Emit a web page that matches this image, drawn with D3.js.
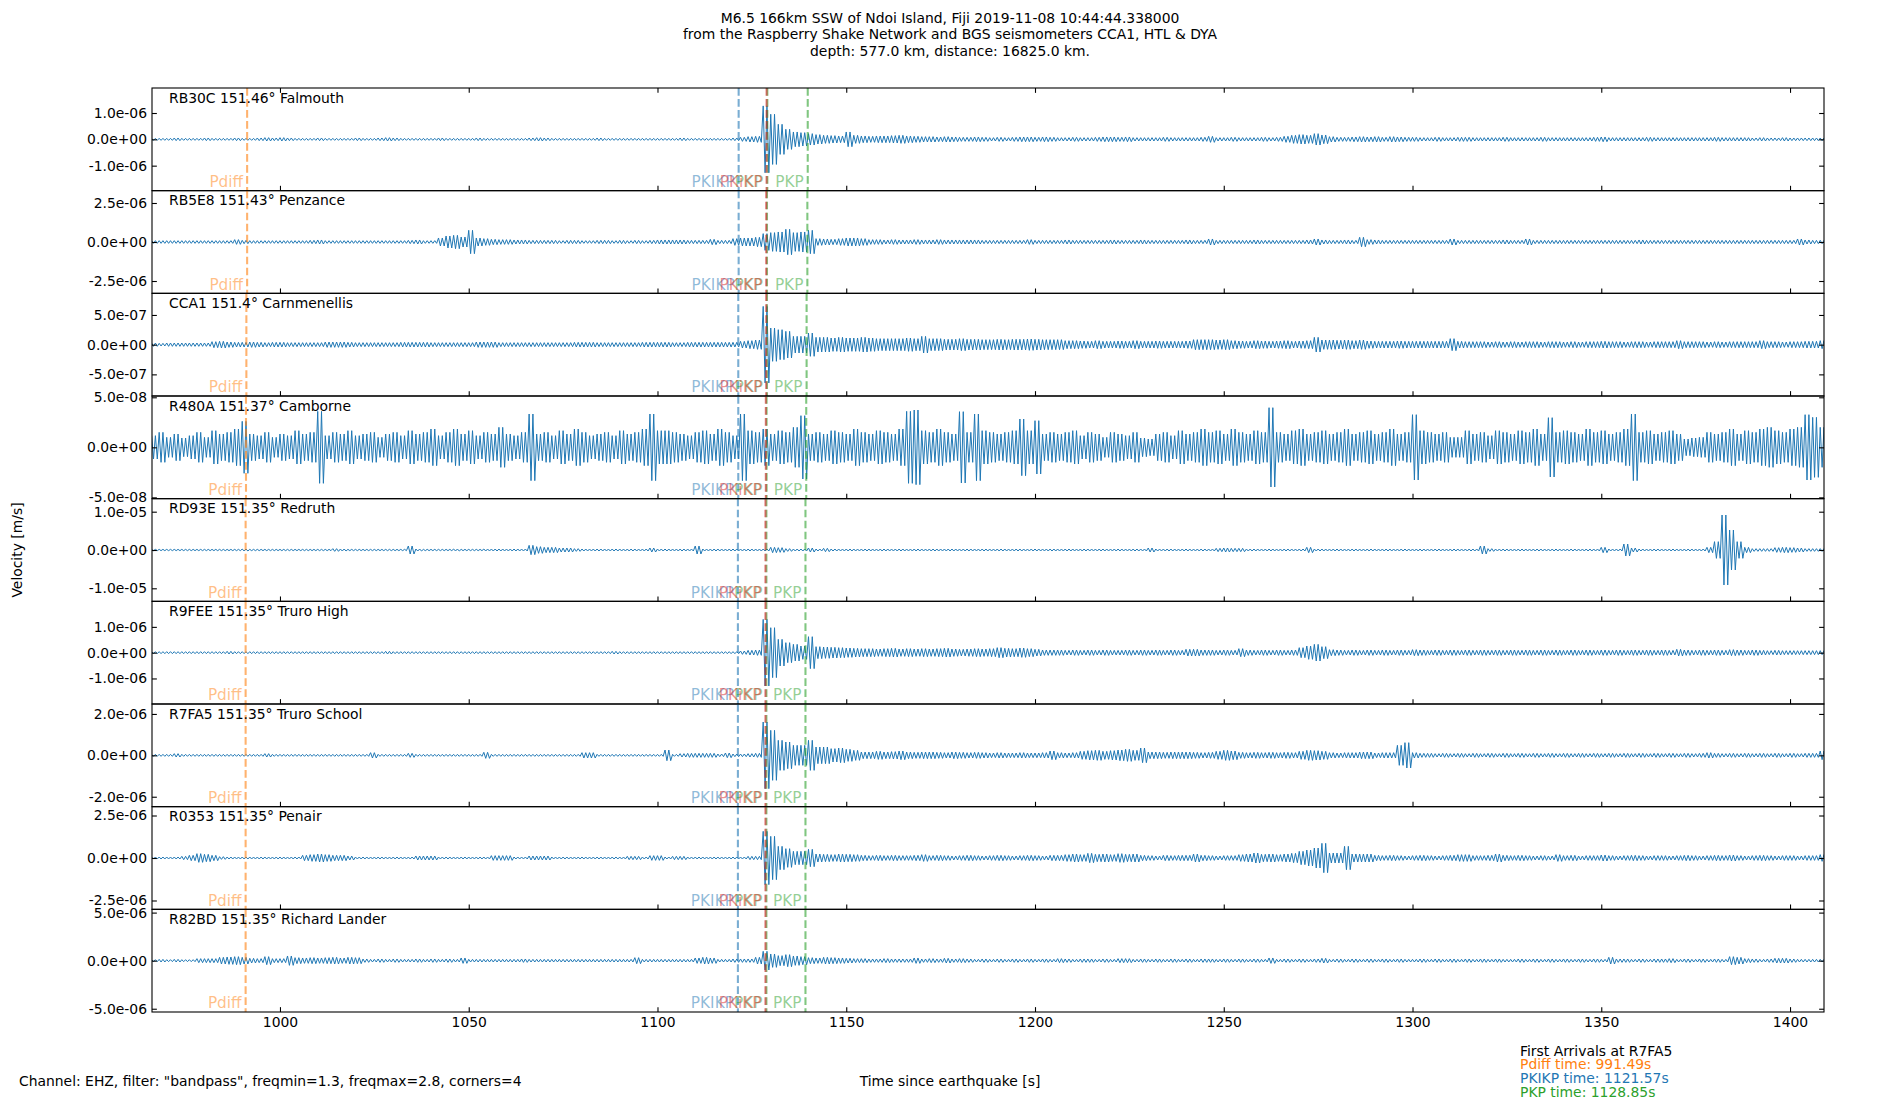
<!DOCTYPE html>
<html>
<head>
<meta charset="utf-8">
<script src="https://cdn.jsdelivr.net/npm/d3@7"></script>
<style>
body { margin: 0; background: #fff; }
svg text { font-family: "DejaVu Sans", sans-serif; }
</style>
</head>
<body>
<svg id="chart" width="1900" height="1100"></svg>
<script>
// Stations, top to bottom
var stationCodes = ["RB30C", "RB5E8", "CCA1", "R480A", "RD93E", "R9FEE", "R7FA5", "R0353", "R82BD"];
var stationDist = ["151.46", "151.43", "151.4", "151.37", "151.35", "151.35", "151.35", "151.35", "151.35"];
var stationNames = ["Falmouth", "Penzance", "Carnmenellis", "Camborne", "Redruth", "Truro High", "Truro School", "Penair", "Richard Lander"];

// x axis limits and ticks (seconds since the earthquake)
var timeDomain = [966.1, 1409.0];
var timeTicks = [1000, 1050, 1100, 1150, 1200, 1250, 1300, 1350, 1400];

// y limits (+/-) and tick step per station, m/s
var yHalf = [1.95e-6, 3.29e-6, 8.64e-7, 5.13e-8, 1.34e-5, 1.99e-6, 2.48e-6, 3.02e-6, 5.34e-6];
var yTickStep = [1e-6, 2.5e-6, 5e-7, 5e-8, 1e-5, 1e-6, 2e-6, 2.5e-6, 5e-6];

// phase arrival times drawn on each station, s
var phasePdiff = [991.3, 991.3, 991.1, 991.0, 990.9, 990.9, 990.9, 990.9, 990.9];
var phasePKIKP = [1121.5, 1121.5, 1121.4, 1121.4, 1121.3, 1121.3, 1121.3, 1121.3, 1121.3];
var phasePKiKP = [1128.9, 1128.8, 1128.8, 1128.7, 1128.6, 1128.6, 1128.6, 1128.6, 1128.6];
var phasePKP = [1129.1, 1129.0, 1129.0, 1128.9, 1128.85, 1128.85, 1128.85, 1128.85, 1128.85];
var phasePKP2 = [1139.8, 1139.7, 1139.5, 1139.4, 1139.2, 1139.2, 1139.2, 1139.2, 1139.2];

// first arrivals at R7FA5
var arrivalNames = ["Pdiff", "PKIKP", "PKP"];
var arrivalTimes = [991.49, 1121.57, 1128.85];

// traces: peak amplitude in 2 s bins starting at binStart, in units of ampUnit (m/s)
var binStart = 966, binWidth = 2;
var ampUnit = [1.27e-8, 2.14e-8, 5.6e-9, 3.33e-10, 8.7e-8, 1.29e-8, 1.61e-8, 1.96e-8, 3.47e-8];

var ampRB30C = [
  3,3,3,4,3,3,3,4,3,3,3,4,3,3,4,5,4,5,4,3,
  3,3,4,3,3,3,3,4,3,3,4,5,4,3,3,3,3,3,4,3,
  3,3,3,4,3,3,3,3,3,3,4,5,4,3,3,3,3,3,3,4,
  3,3,3,3,3,3,3,3,3,3,4,3,3,3,3,3,3,4,6,8,
  9,100,75,45,30,22,20,17,14,12,11,10,22,12,10,9,10,10,11,12,
  10,9,8,8,7,8,7,6,6,7,6,5,6,5,6,7,7,6,7,6,
  5,5,6,5,5,6,7,7,6,7,5,5,5,5,6,5,5,5,5,6,
  9,5,5,6,5,5,5,6,5,6,9,12,14,12,17,13,8,6,6,7,
  8,7,8,6,8,7,6,6,5,5,6,5,5,6,6,5,5,5,5,6,
  5,5,5,5,6,5,5,5,5,5,5,6,7,5,5,5,5,5,6,5,
  5,5,5,5,5,5,5,6,5,5,5,5,4,5,4,4,5,4,4,4,
  4,4];
var ampRB5E8 = [
  4,4,4,4,4,4,4,4,4,4,4,7,5,4,4,4,4,4,4,4,
  4,5,6,4,4,4,4,4,4,4,4,4,4,4,5,6,4,4,12,18,
  20,15,35,12,10,8,7,7,6,6,5,5,5,5,4,5,5,4,4,5,
  5,4,5,4,5,4,5,6,6,6,6,5,5,5,8,5,5,10,12,12,
  14,25,28,30,38,28,30,35,10,9,8,10,12,12,10,7,7,6,7,6,
  6,7,6,6,7,6,6,6,6,6,5,5,5,5,5,5,7,5,5,5,
  5,6,5,5,5,5,5,6,5,5,5,6,5,5,5,5,5,6,5,5,
  9,5,5,5,5,5,6,5,5,5,5,5,5,6,9,6,5,5,6,5,
  14,7,6,5,5,5,5,5,5,5,5,5,9,5,5,5,5,5,5,6,
  5,5,9,5,5,5,5,5,5,5,5,5,5,5,5,5,5,6,5,5,
  5,5,5,5,5,5,5,5,5,5,5,5,5,5,5,5,5,5,9,6,
  5,5];
var ampCCA1 = [
  5,4,5,5,5,5,5,5,9,10,8,7,7,8,7,6,7,7,6,6,
  6,6,6,8,8,8,7,6,6,6,6,6,6,7,7,7,7,6,6,6,
  6,6,6,8,8,8,6,6,6,6,6,6,6,6,6,6,7,7,7,6,
  6,6,6,6,6,7,7,7,7,6,6,7,7,7,7,7,7,7,10,12,
  14,115,50,45,40,25,25,35,22,22,20,22,20,20,22,20,18,18,18,18,
  20,18,25,18,18,16,16,18,16,16,15,15,16,15,16,16,17,16,15,15,
  15,12,12,11,10,12,10,10,11,10,12,10,10,11,10,10,10,11,15,15,
  15,14,15,12,11,10,12,11,10,11,12,10,11,12,22,14,14,13,14,12,
  14,11,10,10,10,11,10,10,10,10,10,10,18,10,9,9,9,8,9,8,
  9,8,9,9,8,9,9,8,9,8,9,9,10,9,9,8,9,9,8,9,
  9,9,12,9,9,9,8,9,8,9,9,9,9,12,9,9,8,9,9,10,
  10,12];
var ampR480A = [
  35,45,30,40,28,35,45,30,50,40,45,55,78,40,35,45,30,40,35,50,
  40,45,108,35,45,40,50,35,40,45,30,40,45,35,50,40,45,55,35,45,
  55,40,50,35,45,40,60,40,35,45,100,40,45,35,50,40,55,45,35,40,
  45,35,50,40,45,55,100,50,50,45,40,35,45,50,40,55,45,35,100,50,
  45,55,40,50,45,60,95,40,45,40,50,45,40,55,45,40,50,45,40,55,
  108,112,50,45,55,45,40,107,45,100,50,45,40,45,50,85,50,80,40,45,
  40,45,50,35,45,40,30,45,40,35,45,28,25,40,45,35,50,40,45,55,
  45,50,40,55,45,40,50,45,119,45,40,50,55,40,45,50,40,45,55,40,
  45,50,40,45,55,40,45,98,50,45,40,45,30,30,50,40,45,35,50,45,
  40,50,45,55,40,89,45,50,45,40,55,45,50,40,45,55,100,45,50,40,
  45,50,40,25,28,30,45,40,45,55,40,50,45,55,60,50,45,55,60,98,
  90,60];
var ampRD93E = [
  2,2,2,2,2,2,2,2,2,2,2,2,3,2,2,2,2,2,2,2,
  2,2,2,2,4,3,2,2,2,2,2,2,2,2,12,3,2,2,2,2,
  3,2,2,2,3,3,3,3,3,3,14,10,8,8,6,6,4,3,3,3,
  3,3,3,3,3,3,6,3,3,3,3,3,12,3,3,3,3,3,3,3,
  3,3,8,7,4,3,3,6,3,5,3,3,3,3,3,3,3,3,3,3,
  3,3,3,3,3,3,3,3,3,3,3,3,3,3,3,3,3,3,3,3,
  3,3,3,3,3,3,3,3,3,3,3,3,6,3,3,3,3,3,3,3,
  3,5,6,5,5,3,3,3,3,3,3,3,3,8,3,3,3,3,3,3,
  3,3,3,3,3,3,3,3,3,3,3,3,3,3,3,3,12,4,3,3,
  3,3,3,3,3,3,3,3,3,3,3,3,8,3,3,18,6,3,3,3,
  3,3,3,3,3,3,8,25,105,60,25,8,4,4,4,7,8,7,6,4,
  4,4];
var ampR9FEE = [
  3,3,3,3,3,3,3,3,3,3,4,3,3,3,3,3,3,3,3,3,
  3,3,3,3,3,3,3,3,3,3,3,4,3,3,3,3,3,3,3,3,
  3,3,3,3,3,3,3,3,3,3,3,3,3,3,3,3,3,3,3,3,
  3,4,3,3,3,3,3,3,3,3,3,3,3,3,3,3,3,3,5,7,
  8,100,75,40,30,25,20,48,18,17,16,15,14,13,12,12,11,12,13,11,
  12,11,12,11,12,13,11,10,11,12,11,12,15,13,12,14,12,10,8,8,
  8,7,8,7,8,7,8,7,7,8,7,8,7,8,7,8,7,10,10,8,
  8,7,8,7,12,8,7,8,7,8,7,8,15,20,25,18,9,8,7,8,
  7,8,7,8,7,8,7,9,8,7,8,7,8,7,8,7,8,7,8,7,
  8,7,8,7,8,7,8,7,8,7,8,7,8,7,8,7,8,7,8,7,
  8,7,10,8,7,8,7,8,7,9,8,7,8,7,6,7,6,6,6,6,
  6,6];
var ampR7FA5 = [
  3,3,3,5,3,3,3,3,3,3,3,3,3,3,3,5,3,3,3,3,
  3,3,3,3,3,3,3,3,3,8,3,3,3,3,6,3,3,3,3,3,
  3,3,3,3,9,3,3,3,3,3,3,3,3,3,3,3,3,8,8,3,
  3,3,3,3,3,3,3,3,16,3,5,6,6,6,6,4,7,4,4,5,
  6,100,75,45,40,30,30,45,25,25,20,22,18,15,10,10,12,10,11,13,
  10,9,10,10,9,8,10,9,8,9,8,7,8,7,7,8,7,7,8,13,
  8,7,8,12,14,15,12,14,16,18,15,22,10,10,9,10,10,10,9,8,
  9,12,15,13,9,8,9,8,9,8,9,8,12,15,14,12,8,7,8,8,
  10,10,7,8,8,30,38,8,6,6,5,6,5,6,5,6,5,6,5,6,
  5,6,5,6,5,6,5,6,5,6,5,6,5,6,5,6,5,6,5,6,
  5,6,5,6,5,6,8,6,5,6,5,6,5,6,5,6,5,6,5,6,
  6,13];
var ampR0353 = [
  3,3,3,3,5,8,13,11,8,4,3,3,3,3,3,3,3,3,3,3,
  8,10,12,10,8,8,6,3,3,3,3,3,3,3,3,6,6,6,3,3,
  3,3,3,3,3,7,7,7,3,3,6,6,6,3,3,3,3,3,3,3,
  3,3,3,5,5,3,7,7,3,5,5,3,3,3,3,3,3,3,3,5,
  5,80,65,35,28,20,20,26,12,11,10,12,11,10,8,7,8,7,8,7,
  7,8,10,7,8,7,6,7,8,7,6,7,8,7,6,7,8,7,6,8,
  8,10,12,10,14,11,12,10,13,11,12,8,7,6,8,7,8,8,12,8,
  7,6,7,7,10,12,15,11,12,10,12,14,20,24,30,44,15,15,35,12,
  12,12,8,7,8,7,6,7,8,7,6,7,8,10,10,7,7,8,12,8,
  7,8,7,6,7,6,10,7,8,6,7,7,9,7,6,7,8,7,6,7,
  7,6,7,8,7,6,7,8,7,9,7,6,7,8,7,6,7,7,6,7,
  7,10];
var ampR82BD = [
  3,4,3,4,3,3,6,6,6,10,11,12,10,7,6,12,6,6,14,9,
  8,9,8,9,10,8,10,9,5,4,5,4,5,4,4,5,4,5,4,5,
  4,8,4,4,4,4,4,4,4,5,4,4,4,4,4,4,4,4,4,4,
  4,4,4,4,9,4,4,4,4,4,4,4,8,10,8,4,4,5,5,5,
  10,28,20,15,18,14,12,9,8,10,9,8,7,6,6,5,5,6,5,5,
  5,8,5,6,5,7,5,6,5,4,5,4,5,4,5,4,5,4,5,4,
  6,5,4,5,5,4,5,4,6,6,4,5,4,5,4,5,4,5,4,5,
  5,4,5,4,5,4,5,4,8,4,5,4,5,4,5,7,4,5,4,5,
  4,5,4,5,4,5,4,4,5,4,5,4,5,4,5,4,5,4,5,4,
  4,5,4,5,4,5,4,5,4,5,4,5,4,10,5,5,4,5,4,5,
  5,6,4,5,4,5,4,5,4,12,10,6,5,4,5,7,7,5,4,4,
  4,4];

var amps = [ampRB30C, ampRB5E8, ampCCA1, ampR480A, ampRD93E, ampR9FEE, ampR7FA5, ampR0353, ampR82BD];

// phase styling table (red PKiKP drawn last, over the green PKP)
var phases = [
    {name: "Pdiff", color: "#ff7f0e", times: phasePdiff},
    {name: "PKIKP", color: "#1f77b4", times: phasePKIKP},
    {name: "PKP", color: "#2ca02c", times: phasePKP},
    {name: "PKP", color: "#2ca02c", times: phasePKP2},
    {name: "PKiKP", color: "#d62728", times: phasePKiKP}
];
var arrivalColors = ["#ff7f0e", "#1f77b4", "#2ca02c"];

var svgWidth = 1900;
var svgHeight = 1100;
var margin = {top: 88, right: 76, bottom: 88, left: 152};
var width = svgWidth - margin.left - margin.right;
var height = svgHeight - margin.top - margin.bottom;
var panelH = height / stationCodes.length;
var fontSize = 13.9;
var tickLen = 4.86;
var strokesPerBin = 4;

var svg = d3.select("#chart");
var defs = svg.append("defs");

var xScale = d3.scaleLinear().domain(timeDomain).range([margin.left, margin.left + width]);

// 0.0e+00 style labels
function sciFormat(v) {
    var parts = v.toExponential(1).split("e");
    var e = parseInt(parts[1], 10);
    return parts[0] + "e" + (e < 0 ? "-" : "+") + String(Math.abs(e)).padStart(2, "0");
}

// each bin is drawn as strokes swinging between its max and min,
// the way a min/max decimated trace fills its pixel columns
function tracePoints(vals, unit) {
    var pts = [];
    vals.forEach(function (v, i) {
        var t = binStart + i * binWidth;
        for (var s = 0; s < strokesPerBin; s++) {
            pts.push([t + s * binWidth / strokesPerBin, (s % 2 ? -v : v) * unit]);
        }
    });
    return pts;
}

function styleAxis(g) {
    g.select(".domain").remove();
    g.attr("font-family", "DejaVu Sans").attr("font-size", fontSize);
    g.selectAll(".tick line").attr("stroke", "#000").attr("stroke-width", 1.1);
    g.selectAll(".tick text").attr("fill", "#000");
}

stationCodes.forEach(function (code, k) {
    var top = margin.top + k * panelH;
    var bottom = top + panelH;
    var yScale = d3.scaleLinear().domain([-yHalf[k], yHalf[k]]).range([bottom, top]);
    var panel = svg.append("g");

    defs.append("clipPath").attr("id", "clip" + k)
        .append("rect")
        .attr("x", margin.left).attr("y", top)
        .attr("width", width).attr("height", panelH);

    var line = d3.line()
        .x(d => xScale(d[0]))
        .y(d => yScale(d[1]));

    panel.append("path")
        .datum(tracePoints(amps[k], ampUnit[k]))
        .attr("clip-path", "url(#clip" + k + ")")
        .attr("fill", "none")
        .attr("stroke", "#1f77b4")
        .attr("stroke-width", 1)
        .attr("d", line);

    // phase lines and labels
    phases.forEach(function (p) {
        var px = xScale(p.times[k]);
        panel.append("line")
            .attr("x1", px).attr("x2", px)
            .attr("y1", top).attr("y2", bottom)
            .attr("stroke", p.color)
            .attr("stroke-opacity", 0.6)
            .attr("stroke-width", 2.08)
            .attr("stroke-dasharray", "7.7,3.3");
    });
    phases.forEach(function (p) {
        panel.append("text")
            .attr("x", xScale(p.times[k]) - 4)
            .attr("y", bottom - 3.7)
            .attr("text-anchor", "end")
            .attr("font-size", 15.3)
            .attr("fill", p.color)
            .attr("fill-opacity", 0.5)
            .text(p.name);
    });

    // axes, ticks pointing inwards
    panel.append("g")
        .attr("transform", `translate(${margin.left},0)`)
        .call(d3.axisLeft(yScale)
            .tickValues([-yTickStep[k], 0, yTickStep[k]])
            .tickSize(-tickLen).tickPadding(5)
            .tickFormat(sciFormat))
        .call(styleAxis);

    panel.append("g")
        .attr("transform", `translate(${margin.left + width},0)`)
        .call(d3.axisRight(yScale)
            .tickValues([-yTickStep[k], 0, yTickStep[k]])
            .tickSize(-tickLen).tickFormat(""))
        .call(styleAxis);

    var last = k === stationCodes.length - 1;
    panel.append("g")
        .attr("transform", `translate(0,${bottom})`)
        .call(d3.axisBottom(xScale)
            .tickValues(timeTicks)
            .tickSize(-tickLen).tickPadding(5.6)
            .tickFormat(last ? d3.format("d") : ""))
        .call(styleAxis);

    if (k === 0) {
        panel.append("g")
            .attr("transform", `translate(0,${top})`)
            .call(d3.axisTop(xScale)
                .tickValues(timeTicks)
                .tickSize(-tickLen).tickFormat(""))
            .call(styleAxis);
    }

    panel.append("rect")
        .attr("x", margin.left).attr("y", top)
        .attr("width", width).attr("height", panelH)
        .attr("fill", "none")
        .attr("stroke", "#000")
        .attr("stroke-width", 1.1);

    panel.append("text")
        .attr("x", margin.left + 17)
        .attr("y", top + 14.7)
        .attr("font-size", fontSize)
        .attr("fill", "#000")
        .text(`${code} ${stationDist[k]}° ${stationNames[k]}`);
});

// title
var titleLines = [
    "M6.5 166km SSW of Ndoi Island, Fiji 2019-11-08 10:44:44.338000",
    "from the Raspberry Shake Network and BGS seismometers CCA1, HTL & DYA",
    "depth: 577.0 km, distance: 16825.0 km."
];
titleLines.forEach(function (t, i) {
    svg.append("text")
        .attr("x", svgWidth / 2)
        .attr("y", 22.5 + i * 16.7)
        .attr("text-anchor", "middle")
        .attr("font-size", fontSize)
        .attr("fill", "#000")
        .text(t);
});

// axis labels
svg.append("text")
    .attr("transform", `translate(21.5, ${svgHeight / 2}) rotate(-90)`)
    .attr("text-anchor", "middle")
    .attr("font-size", fontSize)
    .attr("fill", "#000")
    .text("Velocity [m/s]");

svg.append("text")
    .attr("x", svgWidth / 2)
    .attr("y", 1086)
    .attr("text-anchor", "middle")
    .attr("font-size", fontSize)
    .attr("fill", "#000")
    .text("Time since earthquake [s]");

svg.append("text")
    .attr("x", 19)
    .attr("y", 1086)
    .attr("font-size", fontSize)
    .attr("fill", "#000")
    .text('Channel: EHZ, filter: "bandpass", freqmin=1.3, freqmax=2.8, corners=4');

// first arrivals block
svg.append("text")
    .attr("x", 1520)
    .attr("y", 1055.7)
    .attr("font-size", fontSize)
    .attr("fill", "#000")
    .text("First Arrivals at R7FA5");

arrivalNames.forEach(function (n, i) {
    svg.append("text")
        .attr("x", 1520)
        .attr("y", 1055.7 + (i + 1) * 13.7)
        .attr("font-size", fontSize)
        .attr("fill", arrivalColors[i])
        .text(`${n} time: ${arrivalTimes[i].toFixed(2)}s`);
});
</script>
</body>
</html>
